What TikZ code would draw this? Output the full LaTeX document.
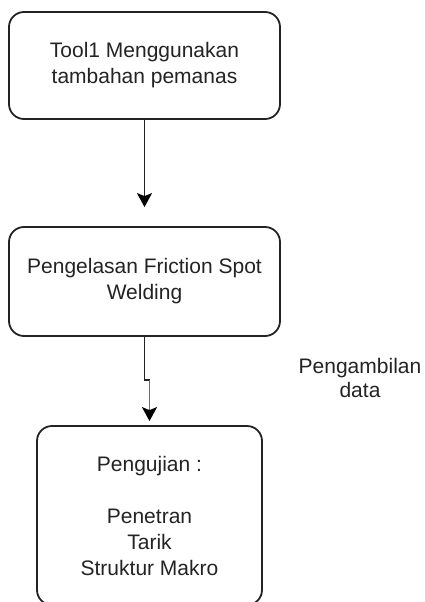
\documentclass[tikz,border=0pt]{standalone}
\usepackage{fontspec}
\setmainfont{Liberation Sans}
\usetikzlibrary{arrows.meta}
\definecolor{ink}{RGB}{35,35,35}
\tikzset{
  box/.style={draw=ink, line width=1.8pt, rounded corners=15pt, inner sep=0pt,
    align=center, text=ink, font=\fontsize{21}{26}\selectfont},
  lbl/.style={inner sep=0pt, align=center, text=ink, font=\fontsize{21}{23.5}\selectfont},
  arr/.style={draw=ink, line width=1.8pt, -{Stealth[length=14pt,width=15pt,inset=3pt,color=black]}},
  wire/.style={draw=ink, line width=1.8pt}
}
\begin{document}
\begin{tikzpicture}[x=1pt,y=-1pt]
\useasboundingbox (0,0) rectangle (424,602);
\node[box, minimum width=271pt, minimum height=107pt] (b1) at (144.5,65.5)
  {Tool1 Menggunakan\\tambahan pemanas};
\node[box, minimum width=271pt, minimum height=109pt] (b2) at (144.5,281.5)
  {Pengelasan Friction Spot\\Welding};
\node[box, minimum width=225pt, minimum height=179pt] (b3) at (149.5,515.5)
  {Pengujian :\\[26pt]Penetran\\Tarik\\Struktur Makro};
\node[lbl] (lab) at (360,378) {Pengambilan\\data};
\draw[arr, shorten >=19pt] (b1.south) -- (b2.north);
\coordinate (j1) at (144.5,380);
\coordinate (j2) at (149.5,380);
\draw[wire] (b2.south) -- (j1) -- (j2);
\draw[arr, draw=gray!85!black, shorten >=4pt] (j2) -- (b3.north);
\end{tikzpicture}
\end{document}
